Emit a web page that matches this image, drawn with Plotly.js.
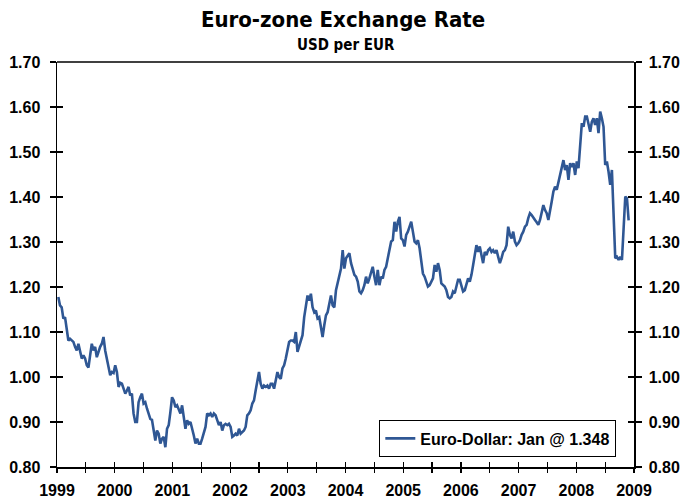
<!DOCTYPE html>
<html>
<head>
<meta charset="utf-8">
<script src="https://cdn.plot.ly/plotly-3.0.1.min.js"></script>
<style>html,body{margin:0;padding:0;background:#fff}#chart{width:686px;height:501px}</style>
</head>
<body>
<div id="chart"></div>
<script>
// Sample dates (decimal years)
var dates = [
1999.023,1999.052,1999.081,1999.110,1999.139,1999.168,1999.197,1999.226,1999.255,1999.284,
1999.313,1999.342,1999.371,1999.400,1999.429,1999.458,1999.487,1999.516,1999.545,1999.574,
1999.603,1999.632,1999.661,1999.690,1999.719,1999.748,1999.777,1999.806,1999.835,1999.864,
1999.893,1999.922,1999.951,1999.980,2000.009,2000.038,2000.067,2000.096,2000.125,2000.154,
2000.183,2000.212,2000.240,2000.269,2000.298,2000.327,2000.356,2000.385,2000.414,2000.443,
2000.472,2000.501,2000.530,2000.559,2000.588,2000.617,2000.646,2000.675,2000.704,2000.733,
2000.762,2000.791,2000.820,2000.849,2000.878,2000.907,2000.936,2000.965,2000.994,2001.023,
2001.052,2001.081,2001.110,2001.139,2001.168,2001.197,2001.226,2001.255,2001.284,2001.313,
2001.342,2001.371,2001.400,2001.429,2001.458,2001.487,2001.516,2001.545,2001.574,2001.603,
2001.632,2001.661,2001.690,2001.719,2001.748,2001.777,2001.806,2001.835,2001.864,2001.893,
2001.922,2001.951,2001.980,2002.009,2002.038,2002.067,2002.096,2002.125,2002.154,2002.183,
2002.212,2002.240,2002.269,2002.298,2002.327,2002.356,2002.385,2002.414,2002.443,2002.472,
2002.501,2002.530,2002.559,2002.588,2002.617,2002.646,2002.675,2002.704,2002.733,2002.762,
2002.791,2002.820,2002.849,2002.878,2002.907,2002.936,2002.965,2002.994,2003.023,2003.052,
2003.081,2003.110,2003.139,2003.168,2003.197,2003.226,2003.255,2003.284,2003.313,2003.342,
2003.371,2003.400,2003.429,2003.458,2003.487,2003.516,2003.545,2003.574,2003.603,2003.632,
2003.661,2003.690,2003.719,2003.748,2003.777,2003.806,2003.835,2003.864,
2003.922,2003.951,2003.980,2004.009,2004.038,2004.067,2004.096,2004.125,2004.154,2004.183,
2004.212,2004.241,2004.269,2004.298,2004.327,2004.356,2004.385,2004.414,2004.443,2004.472,
2004.501,2004.530,2004.559,2004.588,2004.617,2004.646,2004.675,2004.704,2004.733,2004.762,
2004.791,2004.820,2004.849,2004.878,2004.907,2004.936,2004.965,2004.994,2005.023,2005.052,
2005.081,2005.110,2005.139,2005.168,2005.197,2005.226,2005.255,2005.284,2005.313,2005.342,
2005.371,2005.400,2005.429,2005.458,2005.487,2005.516,2005.545,2005.574,2005.603,2005.632,
2005.661,2005.690,2005.719,2005.748,2005.777,2005.806,2005.835,2005.864,2005.893,2005.922,
2005.951,2005.980,2006.009,2006.038,2006.067,2006.096,2006.125,2006.154,2006.183,2006.212,
2006.240,2006.269,2006.298,2006.327,2006.356,2006.385,2006.414,2006.443,2006.472,2006.501,
2006.530,2006.559,2006.588,2006.617,2006.646,2006.675,2006.704,2006.733,2006.762,2006.791,
2006.820,2006.849,2006.878,2006.907,2006.936,2006.965,2006.994,2007.023,2007.052,2007.081,
2007.110,2007.139,2007.168,2007.197,2007.226,2007.255,2007.284,2007.313,2007.342,2007.371,
2007.400,2007.429,2007.458,2007.487,2007.516,2007.545,2007.574,2007.603,2007.632,2007.661,
2007.690,2007.719,2007.748,2007.777,2007.806,2007.835,2007.864,2007.893,2007.922,2007.951,
2007.980,2008.009,2008.038,2008.067,2008.096,2008.125,2008.154,2008.183,2008.212,2008.241,
2008.269,2008.298,2008.327,2008.356,2008.385,2008.414,2008.443,2008.472,2008.501,2008.530,
2008.559,2008.588,2008.617,2008.646,2008.675,2008.704,2008.733,2008.762,2008.791,2008.820,
2008.849,2008.878,2008.907
];
// USD per EUR
var usdPerEur = [
1.178,1.159,1.155,1.130,1.133,1.104,1.081,1.085,1.081,1.078,
1.067,1.059,1.074,1.056,1.041,1.048,1.041,1.026,1.021,1.048,
1.074,1.059,1.067,1.044,1.056,1.067,1.074,1.089,1.059,1.037,
1.022,1.004,1.011,1.009,1.026,1.011,0.978,0.987,0.985,0.974,
0.963,0.970,0.978,0.959,0.963,0.919,0.900,0.900,0.944,0.955,
0.963,0.941,0.944,0.930,0.919,0.907,0.905,0.885,0.859,0.881,
0.874,0.852,0.863,0.867,0.844,0.885,0.893,0.922,0.955,0.948,
0.933,0.937,0.926,0.919,0.937,0.915,0.885,0.904,0.896,0.900,
0.881,0.870,0.852,0.863,0.852,0.852,0.863,0.878,0.889,0.919,
0.915,0.919,0.911,0.919,0.915,0.904,0.893,0.900,0.881,0.893,
0.896,0.893,0.896,0.889,0.867,0.870,0.874,0.870,0.885,0.874,
0.878,0.881,0.889,0.915,0.919,0.926,0.941,0.948,0.970,0.993,
1.011,0.985,0.974,0.981,0.978,0.981,0.974,0.985,0.985,0.974,
0.993,1.011,1.000,0.996,1.019,1.026,1.041,1.056,1.078,1.081,
1.081,1.078,1.100,1.056,1.070,1.078,1.093,1.133,1.159,1.181,
1.170,1.185,1.155,1.144,1.148,1.130,1.133,1.111,1.089,1.115,
1.137,1.144,1.163,1.181,1.159,1.155,1.193,1.211,
1.241,1.282,1.241,1.264,1.271,1.275,1.253,1.241,1.227,1.223,
1.212,1.190,1.186,1.193,1.204,1.223,1.208,1.219,1.234,1.245,
1.223,1.204,1.238,1.204,1.223,1.219,1.238,1.245,1.264,1.282,
1.301,1.304,1.345,1.323,1.345,1.356,1.308,1.304,1.290,1.316,
1.323,1.334,1.345,1.323,1.301,1.297,1.304,1.286,1.260,1.230,
1.223,1.212,1.201,1.204,1.212,1.219,1.249,1.234,1.253,1.238,
1.208,1.204,1.201,1.193,1.178,1.175,1.178,1.190,1.186,1.201,
1.216,1.216,1.204,1.190,1.193,1.204,1.219,1.212,1.227,1.249,
1.271,1.293,1.278,1.290,1.271,1.253,1.278,1.271,1.282,1.286,
1.278,1.282,1.275,1.282,1.267,1.253,1.264,1.278,1.282,1.293,
1.334,1.316,1.308,1.323,1.301,1.293,1.297,1.304,1.316,1.323,
1.334,1.338,1.353,1.364,1.360,1.353,1.349,1.344,1.338,1.349,
1.367,1.382,1.371,1.364,1.349,1.367,1.390,1.412,1.423,1.416,
1.434,1.449,1.467,1.482,1.460,1.471,1.438,1.475,1.467,1.475,
1.449,1.479,1.464,1.519,1.564,1.556,1.579,1.579,1.560,1.545,
1.567,1.575,1.560,1.575,1.542,1.590,1.575,1.556,1.471,1.479,
1.456,1.427,1.460,1.345,1.264,1.267,1.260,1.267,1.260,1.330,
1.401,1.397,1.348
];
var seriesName = "Euro-Dollar: Jan @ 1.348";
var yearTicks = [1999,2000,2001,2002,2003,2004,2005,2006,2007,2008,2009];
var yTicks = [0.80,0.90,1.00,1.10,1.20,1.30,1.40,1.50,1.60,1.70];
var yTickText = ["0.80","0.90","1.00","1.10","1.20","1.30","1.40","1.50","1.60","1.70"];

var lineColor = "#2F5794";
var tickFont = {family: "Liberation Sans, Arial, sans-serif", size: 16, color: "#000", weight: "bold"};
var xr = [1999, 2009];
var yr = [0.80, 1.70];

var traces = [
  {x: dates, y: usdPerEur, type: "scatter", mode: "lines", name: seriesName,
   line: {color: lineColor, width: 2.6}, xaxis: "x", yaxis: "y", hoverinfo: "skip"},
  {x: [], y: [], type: "scatter", mode: "lines", xaxis: "x", yaxis: "y2", showlegend: false},
  {x: [], y: [], type: "scatter", mode: "lines", xaxis: "x", yaxis: "y3", showlegend: false},
  {x: [], y: [], type: "scatter", mode: "lines", xaxis: "x", yaxis: "y4", showlegend: false},
  {x: [], y: [], type: "scatter", mode: "lines", xaxis: "x2", yaxis: "y", showlegend: false}
];

var axLine = {showline: true, linecolor: "#000", linewidth: 1.5, showgrid: false, zeroline: false};
var narrow = "Liberation Sans Narrow, DejaVu Sans Condensed, Arial Narrow, sans-serif";

var layout = {
  width: 686, height: 501,
  margin: {l: 57, r: 52, t: 62, b: 34, pad: 0},
  paper_bgcolor: "#fff", plot_bgcolor: "#fff",
  showlegend: true,
  title: {text: "Euro-zone Exchange Rate", x: 0.5, xanchor: "center", y: 0.962, yanchor: "middle", yref: "container",
          font: {family: narrow, size: 22, color: "#000", weight: "bold"}},
  annotations: [{text: "USD per EUR", xref: "paper", yref: "paper", x: 0.5, y: 1.042, xanchor: "center", yanchor: "middle", showarrow: false,
                 font: {family: narrow, size: 15, color: "#000", weight: "bold"}}],
  xaxis: Object.assign({}, axLine, {range: xr, tickmode: "array", tickvals: yearTicks, ticktext: yearTicks.map(String),
          ticks: "outside", ticklen: 4, tickwidth: 1.2, tickcolor: "#000", tickfont: tickFont, ticklabelstandoff: 4,
          minor: {tickmode: "linear", tick0: 1999, dtick: 0.5, ticks: "outside", ticklen: 4, tickwidth: 1.2, tickcolor: "#000", showgrid: false},
          mirror: false, fixedrange: true}),
  xaxis2: Object.assign({}, axLine, {range: xr, overlaying: "x", anchor: "y", side: "bottom", tickmode: "array", tickvals: yearTicks,
          ticks: "inside", ticklen: 5, tickwidth: 1.2, tickcolor: "#000", showticklabels: false,
          minor: {tickmode: "linear", tick0: 1999, dtick: 0.5, ticks: "inside", ticklen: 5, tickwidth: 1.2, tickcolor: "#000", showgrid: false}}),
  yaxis: Object.assign({}, axLine, {range: yr, tickmode: "array", tickvals: yTicks, ticktext: yTickText,
          ticks: "outside", ticklen: 6, tickwidth: 1.2, tickcolor: "#000", tickfont: tickFont, ticklabelstandoff: 6,
          mirror: true, fixedrange: true}),
  yaxis2: Object.assign({}, axLine, {range: yr, overlaying: "y", anchor: "x", side: "right", tickmode: "array", tickvals: yTicks, ticktext: yTickText,
          ticks: "outside", ticklen: 6, tickwidth: 1.2, tickcolor: "#000", tickfont: tickFont, ticklabelstandoff: 4}),
  yaxis3: Object.assign({}, axLine, {range: yr, overlaying: "y", anchor: "x", side: "left", tickmode: "array", tickvals: yTicks,
          ticks: "inside", ticklen: 6, tickwidth: 1.2, tickcolor: "#000", showticklabels: false}),
  yaxis4: Object.assign({}, axLine, {range: yr, overlaying: "y", anchor: "x", side: "right", tickmode: "array", tickvals: yTicks,
          ticks: "inside", ticklen: 6, tickwidth: 1.2, tickcolor: "#000", showticklabels: false}),
  legend: {x: 0.969, xanchor: "right", y: 0.024, yanchor: "bottom", bgcolor: "#fff", bordercolor: "#000", borderwidth: 1.2,
           font: {family: "Liberation Sans, Arial, sans-serif", size: 16, color: "#000", weight: "bold"}, itemwidth: 30}
};

// top border line
layout.shapes = [{type: "line", xref: "paper", yref: "paper", x0: 0, x1: 1, y0: 1, y1: 1, line: {color: "#000", width: 1.5}}];

Plotly.newPlot("chart", traces, layout, {staticPlot: true, displayModeBar: false});
</script>
</body>
</html>
